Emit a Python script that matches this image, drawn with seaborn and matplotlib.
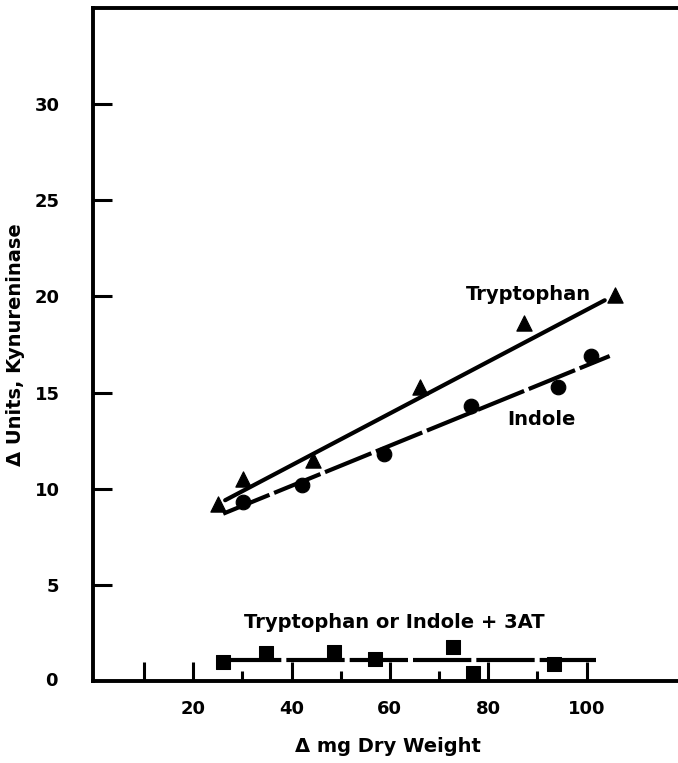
import numpy as np
import seaborn as sns
import matplotlib.pyplot as plt

# %% Data

trp_x = [25.1, 30.2, 44.3, 66.1, 87.3, 105.7]
trp_y = [9.2, 10.5, 11.5, 15.3, 18.6, 20.1]

ind_x = [30.2, 42.2, 58.8, 76.5, 94.1, 101.0]
ind_y = [9.3, 10.2, 11.8, 14.3, 15.3, 16.9]

at_x = [26.1, 34.9, 48.6, 56.9, 72.9, 76.9, 93.3]
at_y = [1.0, 1.45, 1.5, 1.15, 1.75, 0.4, 0.9]

# hand-drawn fit lines (end points)
trp_fit_x = [26.5, 103.7]
trp_fit_y = [9.4, 19.8]
ind_fit_x = [26.1, 104.7]
ind_fit_y = [8.7, 16.9]
at_fit_x = [26.0, 102.0]
at_fit_y = [1.1, 1.1]

x_major = [10, 20, 40, 60, 80, 100]
x_major_labels = ['', '20', '40', '60', '80', '100']
x_minor = [30, 50, 70, 90]
y_ticks = [5, 10, 15, 20, 25, 30]

# %% Plot

sns.set_style('ticks', {'axes.edgecolor': 'black', 'text.color': 'black',
                        'xtick.color': 'black', 'ytick.color': 'black',
                        'axes.labelcolor': 'black'})
plt.rcParams['font.family'] = ['DejaVu Sans']
plt.rcParams['font.weight'] = 'bold'

fig = plt.figure(figsize=(6.78, 7.63), dpi=100)
ax = fig.add_axes([0.137, 0.1075, 0.863, 0.882])

sns.lineplot(x=trp_fit_x, y=trp_fit_y, color='black', lw=3, ax=ax)
sns.lineplot(x=ind_fit_x, y=ind_fit_y, color='black', lw=3,
             linestyle=(0, (12, 1.2)), ax=ax)
sns.lineplot(x=at_fit_x, y=at_fit_y, color='black', lw=3,
             linestyle=(0, (14, 1.2)), ax=ax)

sns.scatterplot(x=trp_x, y=trp_y, marker='^', s=120, color='black',
                edgecolor='black', ax=ax, zorder=3)
sns.scatterplot(x=ind_x, y=ind_y, marker='o', s=110, color='black',
                edgecolor='black', ax=ax, zorder=3)
sns.scatterplot(x=at_x, y=at_y, marker='s', s=90, color='black',
                edgecolor='black', ax=ax, zorder=3)

ax.set_xlim(-0.4, 118.6)
ax.set_ylim(0, 35)

ax.set_xticks(x_major)
ax.set_xticklabels(x_major_labels)
ax.set_xticks(x_minor, minor=True)
ax.set_yticks(y_ticks)

ax.tick_params(axis='x', which='major', direction='in', length=14, width=2.2,
               pad=14, labelsize=13)
ax.tick_params(axis='x', which='minor', direction='in', length=7, width=2.2)
ax.tick_params(axis='y', direction='in', length=14, width=2.2, pad=24,
               labelsize=13)
ax.text(-0.06, 0, '0', transform=ax.get_yaxis_transform(), ha='right',
        va='center', fontsize=13, fontweight='bold', clip_on=False)

for s in ['left', 'top', 'bottom']:
    ax.spines[s].set_linewidth(2.8)
ax.spines['right'].set_visible(False)

ax.text(88.2, 20.1, 'Tryptophan', ha='center', va='center', fontsize=14,
        fontweight='bold')
ax.text(90.8, 13.6, 'Indole', ha='center', va='center', fontsize=14,
        fontweight='bold')
ax.text(61.0, 3.06, 'Tryptophan or Indole + 3AT', ha='center', va='center',
        fontsize=14, fontweight='bold')

ax.set_xlabel('Δ mg Dry Weight', fontsize=14, fontweight='bold', va='center')
ax.set_ylabel('Δ Units, Kynureninase', fontsize=14, fontweight='bold',
              va='center')
ax.xaxis.set_label_coords(0.504, -0.097)
ax.yaxis.set_label_coords(-0.133, 0.5)

fig.savefig('out.png', dpi=100)
